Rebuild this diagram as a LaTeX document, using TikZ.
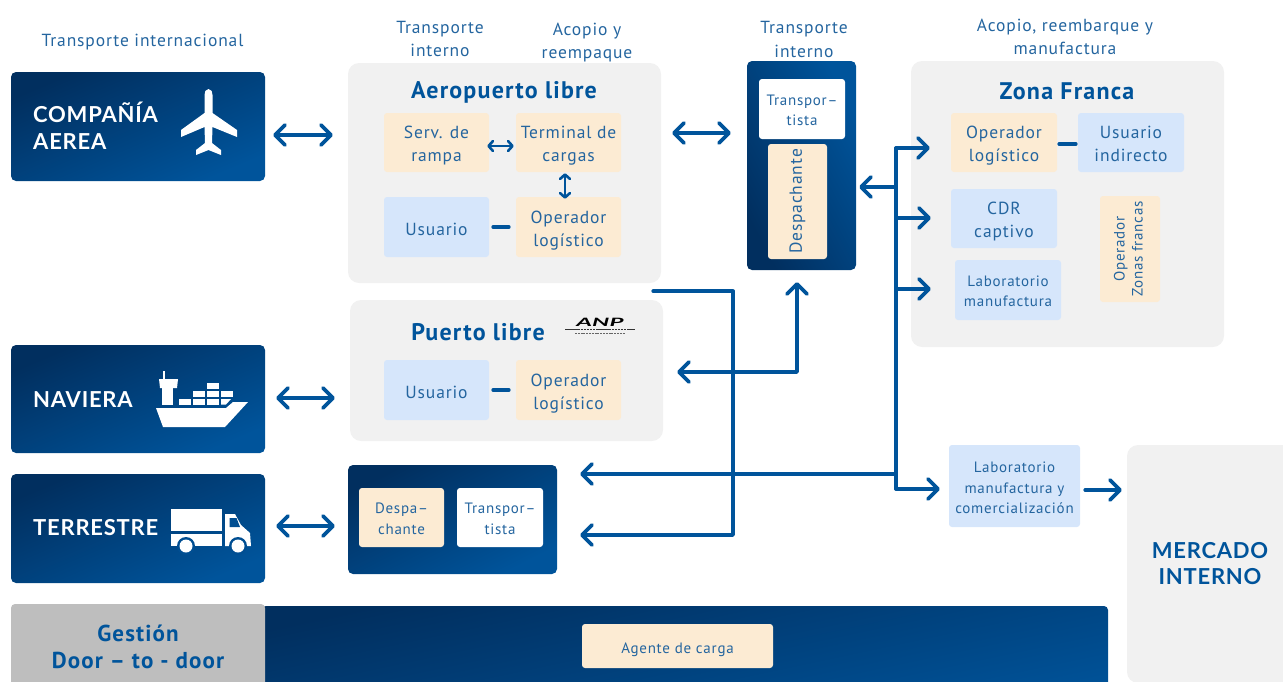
\documentclass[tikz,border=0pt]{standalone}
\usepackage{fontspec}
\setmainfont{PT Sans}[LetterSpace=5]
\newfontfamily\capsfont{Lato}[LetterSpace=3.5]
\newfontfamily\logofont{Lato}
\usetikzlibrary{arrows.meta}
\definecolor{flowblue}{HTML}{00549B}
\definecolor{gradlight}{HTML}{00549B}
\definecolor{graddark}{HTML}{012F5F}
\definecolor{txtblue}{HTML}{24659F}
\definecolor{panelgrey}{HTML}{F1F1F1}
\definecolor{cream}{HTML}{FCEBD3}
\definecolor{skyfill}{HTML}{D6E6FB}
\definecolor{greyhead}{HTML}{BEBEBE}
\newcommand{\lf}{\rule{0pt}{19pt}}
\newcommand{\ls}{\rule{0pt}{16.5pt}}
\newcommand{\lfs}{\rule{0pt}{13.5pt}}
\tikzset{
  gradbox/.style={shade,top color=graddark,bottom color=gradlight,shading angle=23,rounded corners=5pt},
  gradgrp/.style={shade,top color=graddark,bottom color=gradlight,shading angle=27,rounded corners=5pt},
  gradband/.style={shade,top color=graddark,bottom color=gradlight,shading angle=12,rounded corners=4pt},
  gradup/.style={shade,top color=gradlight,bottom color=graddark,shading angle=-62,rounded corners=5pt},
  panel/.style={fill=panelgrey,rounded corners=11pt},
  creambox/.style={fill=cream,rounded corners=3pt,text=txtblue,font=\fontsize{17.5}{23}\selectfont},
  skybox/.style={fill=skyfill,rounded corners=3pt,text=txtblue,font=\fontsize{17.5}{23}\selectfont},
  whitebox/.style={fill=white,rounded corners=3pt,text=txtblue,font=\fontsize{15}{20.5}\selectfont},
  smalltext/.style={font=\fontsize{15}{20.5}\selectfont},
  label/.style={text=txtblue,align=center,inner sep=0pt,font=\fontsize{17.5}{23.5}\selectfont},
  paneltitle/.style={text=flowblue,inner sep=0pt,font=\fontsize{24}{26}\selectfont\bfseries},
  capstitle/.style={text=white,align=left,inner sep=0pt,font=\fontsize{22}{27}\capsfont\bfseries},
  flow/.style={draw=flowblue,line width=3.7pt,line cap=round,line join=round,
    >={Straight Barb[length=10pt,width=20pt,round]}},
  thinflow/.style={draw=flowblue,line width=2.6pt,line cap=round,line join=round,
    >={Straight Barb[length=4.5pt,width=10pt,round]}},
  icon/.style={fill=white,draw=none}
}
\newcommand{\bx}[7]{%
  \pgfmathsetmacro\bxcx{(#3+#5)/2}\pgfmathsetmacro\bxcy{(#4+#6)/2}%
  \pgfmathsetmacro\bxw{#5-#3}\pgfmathsetmacro\bxh{#6-#4}%
  \node[#2,minimum width=\bxw pt,minimum height=\bxh pt,inner sep=0pt,align=center] (#1) at (\bxcx,\bxcy) {#7};}
\begin{document}
\begin{tikzpicture}[x=1pt,y=-1pt]
\useasboundingbox (0,0) rectangle (1283,681);
\clip (0,0) rectangle (1283,681);
% top labels
\node[label] (lab1) at (142.5,42.5) {Transporte internacional};
\node[label] (lab2) at (440,39) {Transporte\\interno};
\node[label] (lab3) at (587,42.5) {Acopio y\\reempaque};
\node[label] (lab4) at (804,39.5) {Transporte\\interno};
\node[label] (lab5) at (1065,37) {Acopio, reembarque y\\manufactura};
% left column
\bx{comp}{gradbox}{11}{72}{265}{181}{}
\bx{nav}{gradbox}{11}{345}{265}{453}{}
\bx{terr}{gradbox}{11}{474}{265}{583}{}
\node[capstitle,anchor=west] (comptxt) at (33,125.5) {COMPAÑÍA\\AEREA};
\node[capstitle,anchor=west] (navtxt) at (33,399.5) {NAVIERA};
\node[capstitle,anchor=west] (terrtxt) at (33,528) {TERRESTRE};
% plane icon
\path[icon] (208.5,89) .. controls (205.5,89) and (204.5,92) .. (204.5,95) -- (204.5,113)
  -- (181,130) -- (181,137) -- (204.5,127) -- (205,143) -- (196,150) -- (196,155) -- (208.5,150)
  -- (221,155) -- (221,150) -- (212,143) -- (212.5,127) -- (237,137) -- (237,130) -- (212.5,113)
  -- (212.5,95) .. controls (212.5,92) and (211.5,89) .. (208.5,89) -- cycle;
% ship icon
\path[icon] (156,408) -- (226,408) -- (233,402) -- (248,402) -- (225,427) -- (163,427) -- cycle;
\path[icon] (162,388) rectangle (173,405);
\path[icon] (159,379) -- (178,379) -- (177,388) -- (160,388) -- cycle;
\path[icon] (163,371) rectangle (165,380);
\path[icon] (179,399) rectangle (191,405);
\path[icon] (193,399) rectangle (205,405);
\path[icon] (207,399) rectangle (219,405);
\path[icon] (221,399) -- (231,399) -- (226,404.5) -- (221,404.5) -- cycle;
\path[icon] (193,391) rectangle (205,397);
\path[icon] (207,391) rectangle (219,397);
\path[icon] (221,391) rectangle (233,397);
\path[icon] (207,383) rectangle (219,389);
% truck icon
\path[icon] (171,509) rectangle (222,531);
\path[icon] (171,534) rectangle (222,546);
\path[icon] (225,514) -- (235,514) -- (241,525) -- (250,533) -- (251,546) -- (225,546) -- cycle;
\path[fill=gradlight!85!graddark] (229.5,518) -- (236.5,518) -- (240,527) -- (229.5,527) -- cycle;
\path[fill=gradlight!85!graddark] (186,546) circle (9);
\path[fill=gradlight!85!graddark] (238,546) circle (9);
\path[icon] (186,546) circle (6.5);
\path[icon] (238,546) circle (6.5);
% bottom band
\bx{band}{gradband}{262}{606}{1108}{720}{}
\bx{gest}{fill=greyhead,rounded corners=4pt,text=flowblue,font=\fontsize{23}{27.5}\selectfont\bfseries}{11}{604}{265}{690}{Gestión\\Door – to - door}
\bx{agente}{creambox,smalltext}{582}{624}{773}{668}{\rule{0pt}{18pt}Agente de carga}
% aeropuerto
\bx{aero}{panel}{348}{63}{661}{283}{}
\node[paneltitle] (aerot) at (504,92.5) {Aeropuerto libre};
\bx{serv}{creambox}{384}{113}{489}{172}{\lf Serv. de\\rampa}
\bx{term}{creambox}{516}{113}{621}{172}{\lf Terminal de\\cargas}
\bx{usua}{skybox}{384}{197}{489}{257}{\ls Usuario}
\bx{opea}{creambox}{516}{197}{621}{257}{\lf Operador\\logístico}
% puerto
\bx{puerto}{panel}{350}{300}{663}{441}{}
\node[paneltitle] (puertot) at (478,332) {Puerto libre};
\bx{usup}{skybox}{384}{360}{489}{420}{\ls Usuario}
\bx{opep}{creambox}{516}{360}{621}{420}{\lf Operador\\logístico}
% ANP logo
\node[inner sep=0pt,text=black,font=\fontsize{11.5}{12}\logofont\bfseries\itshape] (anp) at (600,322) {\scalebox{2.1}[1]{ANP}};
\draw[black!80,line width=1.2pt,dash pattern=on 2.5pt off .6pt] (565,329.5) -- (635,329.5);
\draw[black!60,line width=1pt,dash pattern=on 2pt off .8pt] (575,333.5) -- (625,333.5);
% terrestre group
\bx{tgrp}{gradgrp}{348}{465}{557}{574}{}
\bx{tdes}{creambox,smalltext}{359}{488}{444}{547}{\lfs Despa–\\chante}
\bx{ttra}{whitebox}{457}{488}{543}{547}{\lfs Transpor–\\tista}
% transporte interno block
\bx{tblk}{gradup}{747}{61}{856}{270}{}
\bx{btra}{whitebox}{759}{79}{845}{139}{\lfs Transpor–\\tista}
\bx{bdes}{creambox}{768}{144}{827}{259}{\rotatebox{90}{Despachante}}
% zona franca
\bx{zona}{panel}{911}{61}{1224}{347}{}
\node[paneltitle] (zonat) at (1067,91) {Zona Franca};
\bx{zope}{creambox}{951}{113}{1057}{172}{\lf Operador\\logístico}
\bx{zusu}{skybox}{1078}{113}{1184}{172}{\rule{0pt}{15pt}Usuario\\indirecto}
\bx{zcdr}{skybox}{951}{189}{1057}{248}{\lf CDR\\captivo}
\bx{zlab}{skybox,smalltext}{955}{260}{1061}{320}{\lfs Laboratorio\\manufactura}
\bx{zopz}{creambox,smalltext}{1100}{196}{1160}{302}{\rotatebox{90}{\def\arraystretch{.88}\begin{tabular}{@{}c@{}}Operador\\Zonas francas\end{tabular}}}
% right
\bx{lmc}{skybox,smalltext}{949}{445}{1080}{527}{\rule{0pt}{15pt}Laboratorio\\manufactura y\\comercialización}
\bx{merc}{panel,text=flowblue,font=\fontsize{22}{26}\capsfont\bfseries}{1127}{445}{1293}{683}{MERCADO\\INTERNO}
% junctions
\coordinate (jaero) at (733,535);
\coordinate (jup) at (797,372);
\coordinate (busT) at (896,148);
\coordinate (busB) at (896,489);
\coordinate (bcdr) at (896,218);
\coordinate (blab) at (896,289);
\coordinate (bblk) at (896,187);
\coordinate (bter) at (896,474);
% double arrows
\draw[flow,<->] ([shift={(8,8.5)}]comp.east) -- ([shift={(-15,-38)}]aero.west);
\draw[flow,<->] ([shift={(11,-1)}]nav.east) -- ([shift={(-15,27.5)}]puerto.west);
\draw[flow,<->] ([shift={(11,-2.5)}]terr.east) -- ([shift={(-13,6.5)}]tgrp.west);
\draw[flow,<->] ([shift={(11,-40)}]aero.east) -- ([shift={(-16,-32.5)}]tblk.west);
% internal links
\draw[thinflow,<->] ([shift={(-2,3.5)}]serv.east) -- ([shift={(-2,3.5)}]term.west);
\draw[thinflow,<->] ([shift={(-3.5,1)}]term.south) -- ([shift={(-3.5,2)}]opea.north);
\draw[flow] ([xshift=4]usua.east) -- ([xshift=-7]opea.west);
\draw[flow] ([xshift=4]usup.east) -- ([xshift=-7]opep.west);
\draw[flow] ([shift={(2,1.5)}]zope.east) -- ([shift={(-2,1.5)}]zusu.west);
% routed lines
\draw[flow,->] ([shift={(-8,8)}]aero.south east) -| (jaero) -- ([shift={(23,15.5)}]tgrp.east);
\draw[flow,<->] ([shift={(14,1.5)}]puerto.east) -- (jup) -- ([shift={(-4.5,12)}]tblk.south);
\draw[flow,->] (busB) -- (busT) -- ([shift={(-21,5.5)}]zope.west);
\draw[flow,->] (busT) -- (busB) -- ([shift={(-9,3)}]lmc.west);
\draw[flow,->] (bcdr) -- ([shift={(-20,-0.5)}]zcdr.west);
\draw[flow,->] (blab) -- ([shift={(-24,-1)}]zlab.west);
\draw[flow,->] (bblk) -- ([shift={(3,21.5)}]tblk.east);
\draw[flow,->] (bter) -- ([shift={(23,-45.5)}]tgrp.east);
\draw[flow,->] ([shift={(5,4)}]lmc.east) -- ([shift={(-5,-74)}]merc.west);
\end{tikzpicture}
\end{document}
